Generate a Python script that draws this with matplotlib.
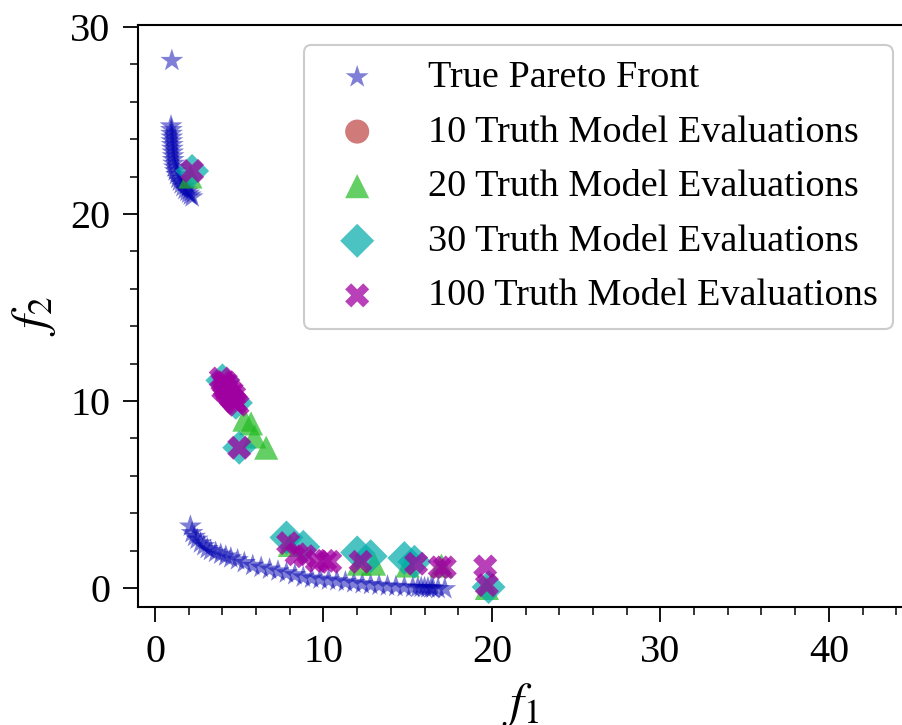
import matplotlib
matplotlib.use("Agg")
import matplotlib.pyplot as plt
from matplotlib.ticker import AutoMinorLocator

plt.rcParams['font.family'] = 'serif'
plt.rcParams['font.serif'] = ['Liberation Serif', 'DejaVu Serif']
plt.rcParams['mathtext.fontset'] = 'stix'

# True Pareto front (upper branch, lone point, lower branch)
pareto_f1 = [1.00,
             0.95, 0.97, 0.98, 1.00, 1.00, 1.02, 1.03, 1.05, 1.07, 1.08, 1.10, 1.14,
             1.20, 1.28, 1.36, 1.45, 1.55, 1.66, 1.78, 1.90, 2.00, 2.10, 2.20,
             2.10, 2.20, 2.35, 2.50, 2.70, 2.90, 3.10, 3.30, 3.60, 3.90, 4.20, 4.50,
             4.90, 5.30, 5.80, 6.30, 6.80, 7.30, 7.80, 8.30, 8.80, 9.30, 9.80, 10.3,
             10.8, 11.3, 11.8, 12.3, 12.8, 13.3, 13.8, 14.3, 14.8, 15.3, 15.6, 15.8,
             16.0, 16.2, 16.4, 16.5, 16.8, 17.2]
pareto_f2 = [28.2,
             24.7, 24.5, 24.3, 24.1, 23.9, 23.7, 23.5, 23.3, 23.1, 22.9, 22.7, 22.5,
             22.3, 22.1, 21.9, 21.75, 21.6, 21.45, 21.3, 21.2, 21.1, 21.0, 20.9,
             3.30, 2.95, 2.75, 2.60, 2.40, 2.25, 2.10, 2.00, 1.90, 1.80, 1.70, 1.60,
             1.50, 1.35, 1.20, 1.10, 1.00, 0.90, 0.80, 0.70, 0.58, 0.52, 0.47, 0.42,
             0.38, 0.32, 0.27, 0.22, 0.18, 0.14, 0.10, 0.08, 0.05, 0.03, 0.02, 0.02,
             0.01, 0.00, 0.00, -0.02, -0.04, -0.05]

# Pareto points found after 10 truth model evaluations
eval10_f1 = []
eval10_f2 = []

# after 20 evaluations
eval20_f1 = [2.1, 5.3, 5.7, 5.9, 6.6, 8.0, 12.1, 13.0, 15.0, 17.0, 19.7]
eval20_f2 = [22.0, 9.0, 8.8, 8.1, 7.5, 2.3, 1.3, 1.3, 1.2, 1.2, 0.0]

# after 30 evaluations
eval30_f1 = [2.2, 4.0, 4.8, 5.0, 7.8, 8.8, 12.0, 12.8, 14.8, 15.4, 19.8]
eval30_f2 = [22.3, 11.1, 9.9, 7.5, 2.7, 2.2, 1.9, 1.7, 1.6, 1.4, 0.05]

# after 100 evaluations
eval100_f1 = [2.2,
              3.9, 4.0, 4.1, 4.15, 4.25, 4.3, 4.4, 4.5, 4.6, 4.7, 4.8, 4.9,
              4.2, 4.35, 4.55, 4.7, 4.05,
              5.0,
              7.9, 8.4, 8.9, 9.6, 10.1, 10.4, 12.2, 15.5, 16.9, 17.2, 19.6, 19.7]
eval100_f2 = [22.3,
              11.2, 11.0, 10.9, 10.7, 10.6, 10.45, 10.3, 10.2, 10.1, 10.0, 9.9, 9.8,
              11.0, 10.8, 10.5, 10.3, 10.6,
              7.5,
              2.4, 1.8, 1.7, 1.45, 1.45, 1.4, 1.4, 1.3, 1.1, 1.1, 1.15, 0.15]

fig = plt.figure(figsize=(9.02, 7.25), dpi=100)
ax = fig.add_axes([0.1532, 0.1632, 0.8479, 0.8022])

ms = 300
ax.scatter(pareto_f1, pareto_f2, s=ms, marker='*', color='#0000b0', alpha=0.5,
           edgecolors='none', label='True Pareto Front')
ax.scatter(eval10_f1, eval10_f2, s=ms, marker='o', color='#b22222', alpha=0.6,
           edgecolors='none', label='10 Truth Model Evaluations')
ax.scatter(eval20_f1, eval20_f2, s=ms, marker='^', color='#22bb22', alpha=0.7,
           edgecolors='none', label='20 Truth Model Evaluations')
ax.scatter(eval30_f1, eval30_f2, s=ms, marker='D', color='#00aaaa', alpha=0.7,
           edgecolors='none', label='30 Truth Model Evaluations')
ax.scatter(eval100_f1, eval100_f2, s=ms, marker='X', color='#a000a0', alpha=0.75,
           edgecolors='none', label='100 Truth Model Evaluations')

ax.set_xlim(-1.0, 44.4)
ax.set_ylim(-1.0, 30.1)
ax.set_xticks([0, 10, 20, 30, 40])
ax.set_yticks([0, 10, 20, 30])
ax.xaxis.set_minor_locator(AutoMinorLocator(5))
ax.yaxis.set_minor_locator(AutoMinorLocator(5))
ax.tick_params(which='major', direction='out', length=11, width=1.3,
               labelsize=29, pad=9)
ax.tick_params(which='minor', direction='out', length=5.5, width=1.1)
for side in ['left', 'bottom', 'top']:
    ax.spines[side].set_linewidth(1.5)
ax.spines['right'].set_visible(False)

ax.set_xlabel('$f_1$', fontsize=36)
ax.set_ylabel('$f_2$', fontsize=36)
ax.xaxis.set_label_coords(0.5, -0.128)
ax.yaxis.set_label_coords(-0.105, 0.5)

leg = ax.legend(loc='upper right', bbox_to_anchor=(893 / 902, 1 - 45 / 725),
                bbox_transform=fig.transFigure, borderaxespad=0, fontsize=27.5,
                handletextpad=0.85, handlelength=2.0, labelspacing=0.52,
                fancybox=True, framealpha=1)
leg.get_frame().set_linewidth(1.5)

fig.savefig('out.png', dpi=100)
